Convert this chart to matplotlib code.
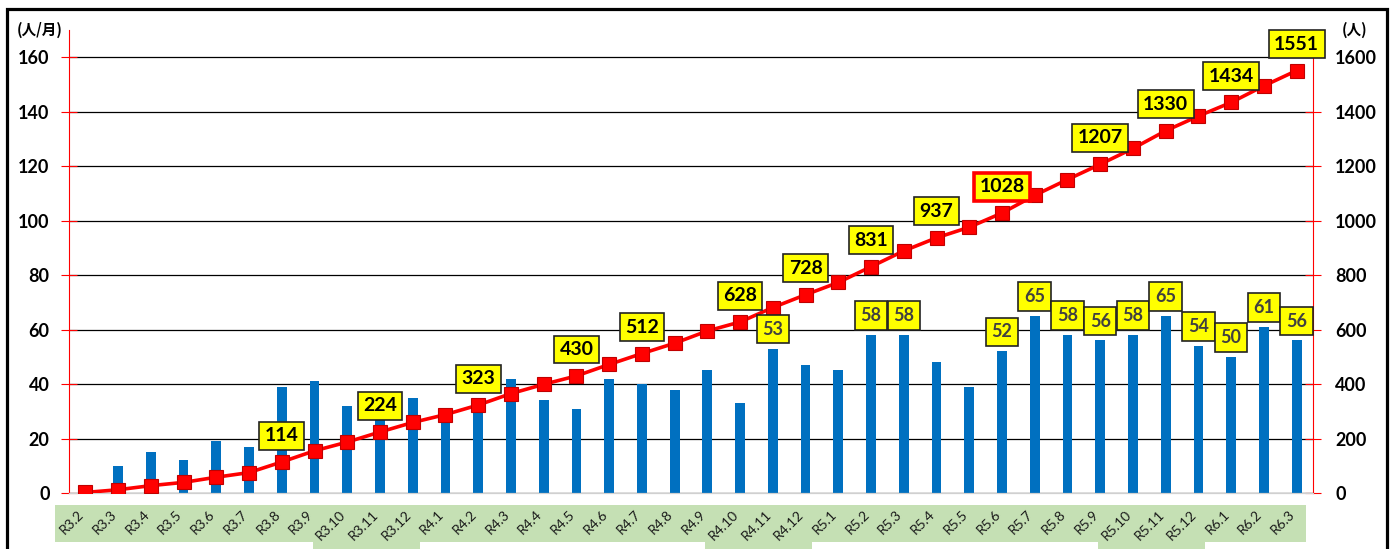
import matplotlib
matplotlib.use("Agg")
import matplotlib.pyplot as plt
import matplotlib.transforms as mtransforms
from matplotlib.patches import Rectangle

plt.rcParams['font.family'] = 'Lato'

months = ['R3.2', 'R3.3', 'R3.4', 'R3.5', 'R3.6', 'R3.7', 'R3.8', 'R3.9', 'R3.10', 'R3.11', 'R3.12',
          'R4.1', 'R4.2', 'R4.3', 'R4.4', 'R4.5', 'R4.6', 'R4.7', 'R4.8', 'R4.9', 'R4.10', 'R4.11', 'R4.12',
          'R5.1', 'R5.2', 'R5.3', 'R5.4', 'R5.5', 'R5.6', 'R5.7', 'R5.8', 'R5.9', 'R5.10', 'R5.11', 'R5.12',
          'R6.1', 'R6.2', 'R6.3']
monthly = [2, 10, 15, 12, 19, 17, 39, 41, 32, 37, 35,
           29, 35, 42, 34, 31, 42, 40, 38, 45, 33, 53, 47,
           45, 58, 58, 48, 39, 52, 65, 58, 56, 58, 65, 54,
           50, 61, 56]
cumulative = [2, 12, 27, 39, 58, 75, 114, 155, 187, 224, 259,
              288, 323, 365, 399, 430, 472, 512, 550, 595, 628, 681, 728,
              773, 831, 889, 937, 976, 1028, 1093, 1151, 1207, 1265, 1330, 1384,
              1434, 1495, 1551]
# which points get a yellow label
cum_labeled = ['R3.8', 'R3.11', 'R4.2', 'R4.5', 'R4.7', 'R4.10', 'R4.12', 'R5.2', 'R5.4',
               'R5.6', 'R5.9', 'R5.11', 'R6.1', 'R6.3']
cum_highlight = 'R5.6'
bar_labeled = ['R4.11', 'R5.2', 'R5.3', 'R5.6', 'R5.7', 'R5.8', 'R5.9', 'R5.10', 'R5.11',
               'R5.12', 'R6.1', 'R6.2', 'R6.3']
# x-label groups that sit lower on the green strip
low_groups = [('R3.10', 'R3.12'), ('R4.10', 'R4.12'), ('R5.10', 'R5.12')]

x = list(range(len(months)))

fig = plt.figure(figsize=(13.94, 5.49), dpi=100)
ax = fig.add_axes([69/1394, 1 - 493/549, (1313-69)/1394, (493-30)/549])
ax2 = ax.twinx()

ax.bar(x, monthly, width=0.3, color='#0070c0', zorder=2)
ax.set_ylim(0, 170)
ax.set_yticks(range(0, 161, 20))
ax.set_xlim(-0.5, len(months) - 0.5)
ax.grid(axis='y', color='black', lw=0.9, zorder=0)
ax.set_axisbelow(True)

ax2.plot(x, cumulative, color='red', lw=2.6, marker='s', markersize=9.5,
         markerfacecolor='red', markeredgecolor='#c00000', markeredgewidth=0.8, zorder=3)
ax2.set_ylim(0, 1700)
ax2.set_yticks(range(0, 1601, 200))

for a in (ax, ax2):
    a.spines['top'].set_visible(False)
    a.spines['left'].set_color('red')
    a.spines['right'].set_color('red')
    a.spines['bottom'].set_color('#d0d0d0')
    a.spines['left'].set_linewidth(0.8)
    a.spines['right'].set_linewidth(0.8)
ax.spines['right'].set_visible(False)
ax2.spines['left'].set_visible(False)

ax.tick_params(axis='y', direction='inout', length=12, color='red', width=0.8,
               labelsize=13, pad=8)
ax2.tick_params(axis='y', direction='inout', length=12, color='red', width=0.8,
                labelsize=13, pad=10)
for lbl in ax.get_yticklabels() + ax2.get_yticklabels():
    lbl.set_fontweight('bold')

ax.set_xticks(x)
ax.tick_params(axis='x', length=0, labelbottom=False)

# month labels, rotated, drawn by hand
lab_tr = mtransforms.blended_transform_factory(ax.transData, ax.transAxes)
for i, m in enumerate(months):
    ax.text(i + 0.02, -0.033, m, transform=lab_tr, rotation=45, ha='right', va='top',
            fontsize=10, color='#1a1a1a', clip_on=False, zorder=3)

# green strip under the month labels
blend = mtransforms.blended_transform_factory(ax.transData, fig.transFigure)
ax.add_patch(Rectangle((-0.92, 1 - 542/549), 38.2, (542-505)/549, transform=blend,
                       facecolor='#c5e0b4', edgecolor='none', clip_on=False, zorder=0))
for g0, g1 in low_groups:
    i0, i1 = months.index(g0), months.index(g1)
    ax.add_patch(Rectangle((i0 - 1.06, -0.02), i1 - i0 + 1.27, 1 - 505/549 + 0.02,
                           transform=blend, facecolor='#c5e0b4', edgecolor='none',
                           clip_on=False, zorder=0))

# labels on the cumulative line
for m in cum_labeled:
    i = months.index(m)
    hi = m == cum_highlight
    ax2.annotate(str(cumulative[i]), (i, cumulative[i]), xytext=(0, 19), textcoords='offset points',
                 ha='center', va='center', fontsize=14, fontweight='bold', color='black',
                 bbox=dict(boxstyle='square,pad=0.28', fc='#ffff00',
                           ec='red' if hi else '#222222', lw=2.6 if hi else 1.2),
                 zorder=6, annotation_clip=False)

# labels on bars
for m in bar_labeled:
    i = months.index(m)
    ax2.annotate(str(monthly[i]), (i, monthly[i] * 10), xytext=(0, 14), textcoords='offset points',
                 ha='center', va='center', fontsize=13, fontweight='bold', color='#404040',
                 bbox=dict(boxstyle='square,pad=0.32', fc='#ffff00', ec='#222222', lw=1.2),
                 zorder=5, annotation_clip=False)

cjk = ['Noto Sans CJK JP', 'DejaVu Sans']
fig.text(17/1394, 1 - 30/549, '(人/月)', family=cjk, fontsize=10.5, fontweight='bold',
         va='center', ha='left')
fig.text(1342/1394, 1 - 30/549, '(人)', family=cjk, fontsize=10.5, fontweight='bold',
         va='center', ha='left')

# outer frame
fig.add_artist(Rectangle((7/1394, -0.05), (1387-7)/1394, 1 - 9/549 + 0.05,
                         transform=fig.transFigure, fill=False, lw=2.3, ec='black'))

fig.savefig('out.png', dpi=100)
